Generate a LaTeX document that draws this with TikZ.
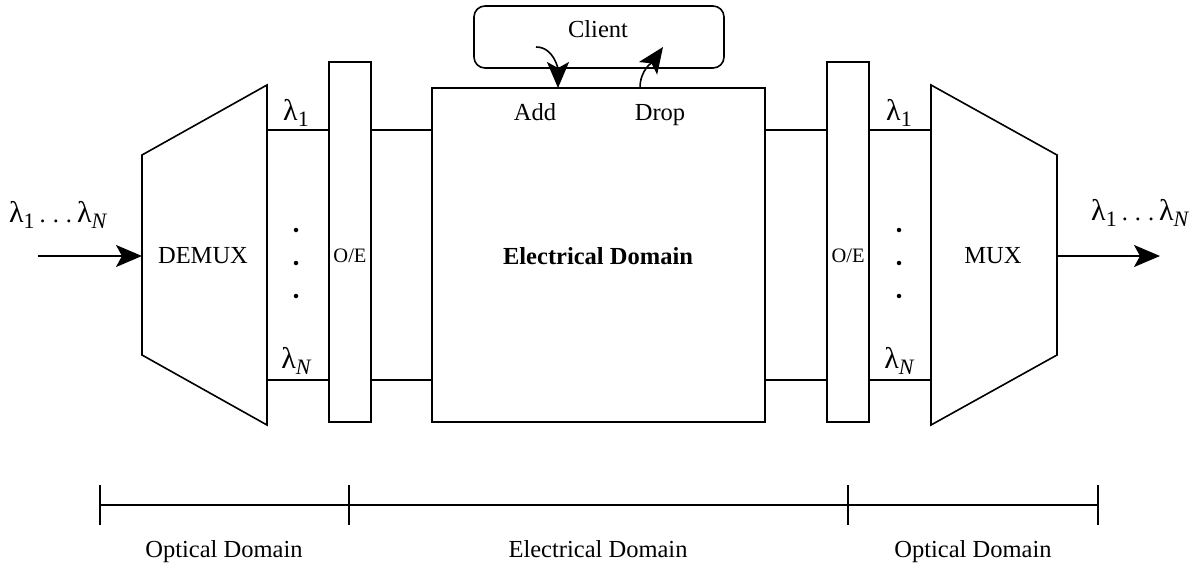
\documentclass[tikz,border=0pt]{standalone}
\usepackage{fontspec}
\setmainfont{Liberation Serif}
\usetikzlibrary{arrows.meta}
\tikzset{
  ln/.style={line width=1.6pt},
  arr/.style={ln,-{Stealth[length=26pt,width=22pt,inset=6pt]}},
  txt/.style={font=\fontsize{24.5}{29}\selectfont, inner sep=0pt},
  smalltxt/.style={font=\fontsize{20.5}{24}\selectfont, inner sep=0pt},
  dot/.style={circle,fill=black,inner sep=0pt,minimum size=4.5pt},
}
\newcommand{\lamb}{{\fontsize{30}{30}\selectfont λ}}
\newcommand{\lam}[1]{\lamb\raisebox{-6pt}{\fontsize{22}{22}\selectfont #1}}
\newcommand{\lamN}{\lamb\raisebox{-6pt}{\fontsize{22}{22}\selectfont\itshape N}}
\newcommand{\ldts}{\kern5pt.\kern7pt.\kern7pt.\kern5pt}
\begin{document}
\begin{tikzpicture}[x=1pt,y=-1pt]
\useasboundingbox (0,0) rectangle (1193,565);
% DEMUX
\draw[ln] (142,155) -- (267,85) -- (267,425) -- (142,355) -- cycle;
\node[txt] (demux) at (203,256) {DEMUX};
% MUX
\draw[ln] (1057,155) -- (931,85) -- (931,425) -- (1057,355) -- cycle;
\node[txt] (mux) at (993,256) {MUX};
% O/E boxes
\draw[ln] (329,62) rectangle (371,422);
\node[smalltxt] (oe1) at (350,256) {O/E};
\draw[ln] (827,62) rectangle (869,422);
\node[smalltxt] (oe2) at (848,256) {O/E};
% Electrical box
\draw[ln] (432,88) rectangle (765,422);
\node[txt,font=\fontsize{24.5}{29}\selectfont\bfseries] (ed) at (598,256) {Electrical Domain};
\node[txt,anchor=base] (add) at (535,120) {Add};
\node[txt,anchor=base] (drop) at (660,120) {Drop};
% Client
\draw[ln,rounded corners=11pt] (474,6) rectangle (724,68);
\node[txt,anchor=base] (client) at (598,37) {Client};
\coordinate (a0) at (536,47);
\coordinate (a1) at (558,88);
\coordinate (d0) at (640,88);
\coordinate (d1) at (663,47);
\draw[arr] (a0) to[out=0,in=90] (a1);
\draw[arr] (d0) to[out=90,in=235] (d1);
% channel lines
\foreach \y in {130,380}{
  \draw[ln] (267,\y) -- (329,\y);
  \draw[ln] (371,\y) -- (432,\y);
  \draw[ln] (765,\y) -- (827,\y);
  \draw[ln] (869,\y) -- (931,\y);
}
\node[txt,anchor=base] (l1a) at (296,120) {\lam{1}};
\node[txt,anchor=base] (lNa) at (296,368) {\lamN};
\node[txt,anchor=base] (l1b) at (899,120) {\lam{1}};
\node[txt,anchor=base] (lNb) at (899,368) {\lamN};
\foreach \y in {230,263,296}{
  \node[dot] at (296,\y) {};
  \node[dot] at (899,\y) {};
}
% input / output
\coordinate (in0) at (38,256);
\coordinate (out1) at (1160,256);
\coordinate (demuxl) at (142,256);
\coordinate (muxr) at (1057,256);
\draw[arr] (in0) -- (demuxl);
\draw[arr] (muxr) -- (out1);
\node[txt,anchor=base west] (inl) at (9,222) {\lam{1}\ldts\lamN};
\node[txt,anchor=base west] (outl) at (1091,220) {\lam{1}\ldts\lamN};
% ruler
\coordinate (r0) at (100,505);
\coordinate (r1) at (349,505);
\coordinate (r2) at (848,505);
\coordinate (r3) at (1098,505);
\draw[ln] (r0) -- (r3);
\foreach \x in {100,349,848,1098}{
  \draw[ln] (\x,485) -- (\x,525);
}
\node[txt,anchor=base] (od1) at (224,557) {Optical Domain};
\node[txt,anchor=base] (edd) at (598,557) {Electrical Domain};
\node[txt,anchor=base] (od2) at (973,557) {Optical Domain};
\end{tikzpicture}
\end{document}
